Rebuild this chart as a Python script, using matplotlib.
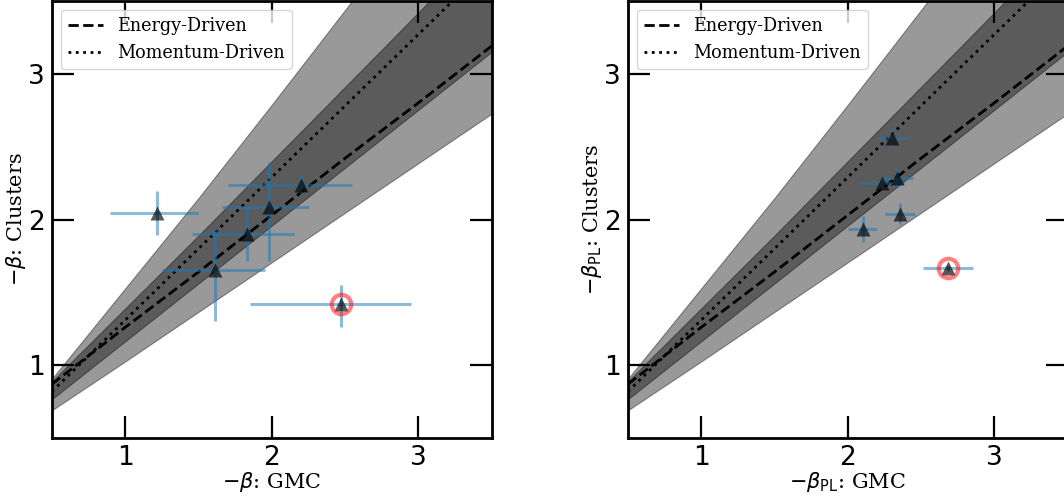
import numpy as np
import matplotlib
matplotlib.use("Agg")
import matplotlib.pyplot as plt

# model lines and uncertainty bands
model_x = [0.5, 1.0, 1.5, 2.0, 2.5, 3.0, 3.5]
energy_y = [0.87, 1.26, 1.64, 2.03, 2.42, 2.80, 3.19]
momentum_y = [0.82, 1.31, 1.80, 2.29, 2.78, 3.27, 3.76]
light_lo = [0.685, 1.02, 1.36, 1.70, 2.04, 2.38, 2.72]
light_hi = [0.90, 1.52, 2.14, 2.78, 3.43, 4.09, 4.76]
dark_lo = [0.767, 1.164, 1.561, 1.958, 2.355, 2.752, 3.15]
dark_hi = [0.89, 1.39, 1.89, 2.40, 2.91, 3.42, 3.94]

# left panel: -beta
gmc_beta = [1.219, 1.613, 1.831, 1.981, 2.200, 2.473]
gmc_beta_lo = [0.32, 0.36, 0.375, 0.32, 0.50, 0.62]
gmc_beta_hi = [0.28, 0.34, 0.32, 0.27, 0.35, 0.48]
cl_beta = [2.046, 1.653, 1.902, 2.084, 2.236, 1.420]
cl_beta_lo = [0.15, 0.35, 0.19, 0.37, 0.06, 0.16]
cl_beta_hi = [0.15, 0.29, 0.19, 0.31, 0.06, 0.13]

# right panel: -beta_PL
gmc_pl = [2.304, 2.231, 2.334, 2.357, 2.102, 2.686]
gmc_pl_err = [0.10, 0.15, 0.11, 0.10, 0.10, 0.17]
cl_pl = [2.560, 2.250, 2.285, 2.041, 1.936, 1.669]
cl_pl_err = [0.07, 0.03, 0.06, 0.07, 0.09, 0.02]

outlier = 5  # index of the circled point

plt.rcParams["font.family"] = "serif"
plt.rcParams["font.serif"] = ["DejaVu Serif"]
plt.rcParams["mathtext.fontset"] = "dejavusans"

fig = plt.figure(figsize=(10.64, 4.97), dpi=100)
ax1 = fig.add_axes([52 / 1064, 59 / 497, 439.5 / 1064, 437 / 497])
ax2 = fig.add_axes([628 / 1064, 59 / 497, 439.5 / 1064, 437 / 497])


def draw_panel(ax, x, y, xerr, yerr, xlabel, ylabel):
    ax.fill_between(model_x, light_lo, light_hi, color="k", alpha=0.4, lw=0.8)
    ax.fill_between(model_x, dark_lo, dark_hi, color="k", alpha=0.4, lw=0.8)
    ax.plot(model_x, energy_y, "k--", lw=2, label="Energy-Driven")
    ax.plot(model_x, momentum_y, "k:", lw=2, label="Momentum-Driven")
    ax.errorbar(x, y, xerr=xerr, yerr=yerr, fmt="none", ecolor="C0",
                alpha=0.5, elinewidth=2.2)
    ax.plot(x, y, "^", color="k", alpha=0.65, ms=10, mec="none")
    ax.plot(x[outlier], y[outlier], "o", mfc="none", mec="red", alpha=0.5,
            ms=14, mew=3)
    ax.set_xlim(0.5, 3.5)
    ax.set_ylim(0.5, 3.5)
    ax.set_xticks([1, 2, 3])
    ax.set_yticks([1, 2, 3])
    ax.tick_params(direction="in", length=16, width=1.6, top=True, right=True,
                   labelsize=19, pad=5)
    for lab in ax.get_xticklabels() + ax.get_yticklabels():
        lab.set_family("DejaVu Sans")
    for s in ax.spines.values():
        s.set_linewidth(2)
    ax.set_xlabel(xlabel, fontsize=15, labelpad=-1)
    ax.set_ylabel(ylabel, fontsize=15, labelpad=0.5)
    ax.legend(loc="upper left", fontsize=12.7)


draw_panel(ax1, gmc_beta, cl_beta, [gmc_beta_lo, gmc_beta_hi],
           [cl_beta_lo, cl_beta_hi], r"$-\beta$: GMC", r"$-\beta$: Clusters")
draw_panel(ax2, gmc_pl, cl_pl, gmc_pl_err, cl_pl_err,
           r"$-\beta_{\rm PL}$: GMC", r"$-\beta_{\rm PL}$: Clusters")

fig.savefig("out.png", dpi=100)
